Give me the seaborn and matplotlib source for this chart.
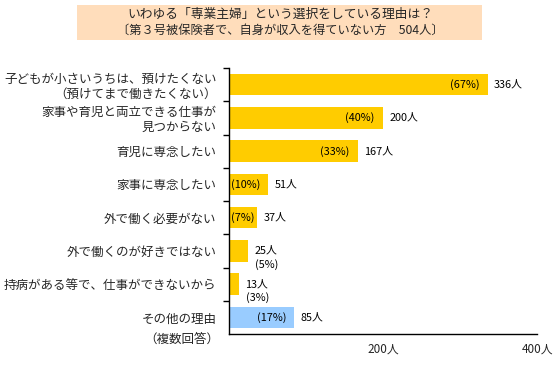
import matplotlib
matplotlib.use("Agg")
import matplotlib.pyplot as plt
import seaborn as sns
import pandas as pd
from matplotlib.patches import Rectangle

categories = [
    "子どもが小さいうちは、預けたくない\n（預けてまで働きたくない）",
    "家事や育児と両立できる仕事が\n見つからない",
    "育児に専念したい",
    "家事に専念したい",
    "外で働く必要がない",
    "外で働くのが好きではない",
    "持病がある等で、仕事ができないから",
    "その他の理由",
]
counts = [336, 200, 167, 51, 37, 25, 13, 85]
percents = [67, 40, 33, 10, 7, 5, 3, 17]
xtick_values = [200, 400]
xtick_labels = ["200人", "400人"]
title_line1 = "いわゆる「専業主婦」という選択をしている理由は？"
title_line2 = "〔第３号被保険者で、自身が収入を得ていない方　504人〕"
note = "（複数回答）"

sns.set_theme(style="white")
plt.rcParams["font.family"] = ["Noto Sans CJK JP", "DejaVu Sans"]

gold = "#FFCC00"
blue = "#99CCFF"
palette = [gold] * 7 + [blue]

fig = plt.figure(figsize=(5.6, 3.68), dpi=100)
ax = fig.add_axes([229 / 560, 1 - 334 / 368, (537 - 229) / 560, (334 - 68) / 368])

df = pd.DataFrame({"cat": categories, "count": counts})
sns.barplot(data=df, x="count", y="cat", hue="cat", palette=palette,
            legend=False, width=0.64, ax=ax, saturation=1, linewidth=0)

ax.set_xlim(0, 400)
ax.set_ylim(7.5, -0.5)
ax.set_xlabel("")
ax.set_ylabel("")
for s in ["top", "right"]:
    ax.spines[s].set_visible(False)
for s in ["left", "bottom"]:
    ax.spines[s].set_color("black")
    ax.spines[s].set_linewidth(1)

ax.set_xticks(xtick_values)
ax.set_xticklabels(xtick_labels, fontsize=8.5)
ax.tick_params(axis="x", direction="in", length=4, width=1, color="black", pad=6)

ax.set_yticks(range(len(categories)))
ax.set_yticklabels(categories, fontsize=9, linespacing=1.15)
ax.tick_params(axis="y", which="major", length=0, pad=9)
ax.set_yticks([i - 0.5 for i in range(len(categories))], minor=True)
ax.tick_params(axis="y", which="minor", direction="out", length=4, width=1, color="black", left=True)

fs = 7.8
for i, (c, p) in enumerate(zip(counts, percents)):
    ax.annotate(f"{c}人", xy=(c, i), xytext=(4.5, 0), textcoords="offset points",
                ha="left", va="center", fontsize=fs, color="black")
    ptxt = f"({p}%)"
    if c >= 80:
        ax.annotate(ptxt, xy=(c, i), xytext=(-6, 0), textcoords="offset points",
                    ha="right", va="center", fontsize=fs, color="black")
    elif c >= 30:
        ax.annotate(ptxt, xy=(0, i), xytext=(1.5, 0), textcoords="offset points",
                    ha="left", va="center", fontsize=fs, color="black")
    else:
        ax.annotate(ptxt, xy=(c, i), xytext=(5, -10), textcoords="offset points",
                    ha="left", va="center", fontsize=fs, color="black")

# note under last label
fig.text(219 / 560, 1 - 339 / 368, note, ha="right", va="center", fontsize=9)

# title box
fig.patches.append(Rectangle((77 / 560, 1 - 40 / 368), (482 - 77) / 560, 35 / 368,
                             transform=fig.transFigure, facecolor="#FFDDBB",
                             edgecolor="none", zorder=0))
fig.text(280 / 560, 1 - 14 / 368, title_line1, ha="center", va="center", fontsize=9.2)
fig.text(280 / 560, 1 - 30 / 368, title_line2, ha="center", va="center", fontsize=8.8)

fig.savefig("out.png", dpi=100)
